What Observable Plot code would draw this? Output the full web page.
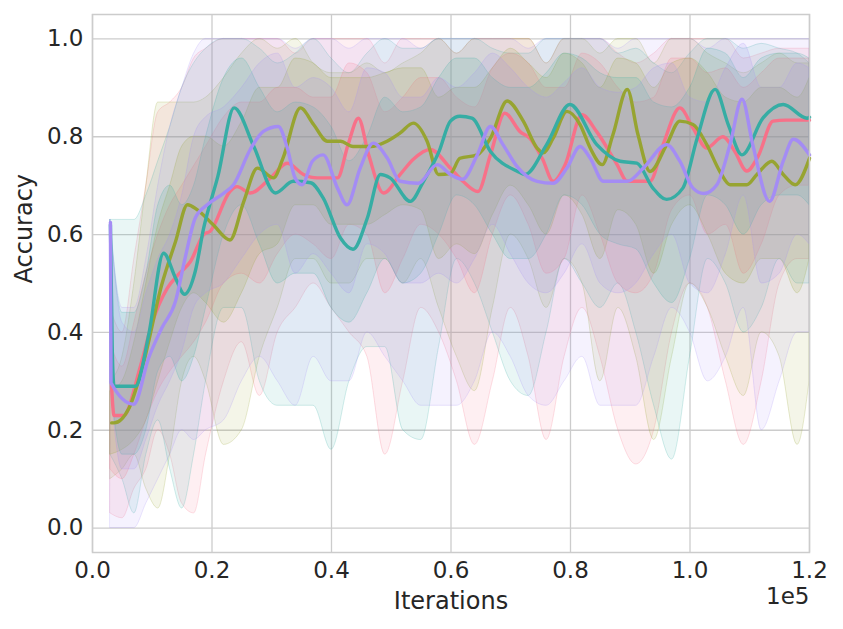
<!DOCTYPE html>
<html><head><meta charset="utf-8">
<script src="https://cdn.jsdelivr.net/npm/d3@7"></script>
<script src="https://cdn.jsdelivr.net/npm/@observablehq/plot@0.6"></script>
<style>body{margin:0;background:#fff;} svg{font-family:"DejaVu Sans",sans-serif;}</style>
</head><body><div id="chart"></div>
<script>
// ---- data (x in thousands of iterations) ----
const seriesNames = ["A", "B", "C", "D"];
const seriesColors = ["#f77189", "#97a431", "#36ada4", "#a48cf4"];
const xTicks = [0, 20000, 40000, 60000, 80000, 100000, 120000];
const yTicks = [0, 0.2, 0.4, 0.6, 0.8, 1.0];

// mean lines
const lineAx = [3.2,3.6,5.2,8,10,12.5,14.5,16.4,18.6,19.7,23,24.2,26.4,29.8,32.6,35.3,37.6,41,42.8,44.5,46.2,48.7,51.5,53.7,56.5,59.9,62,64.5,66.6,69,71.6,73.2,75.3,77.1,79.1,81.9,84.4,87.8,89.5,93.3,95.5,98.3,100.5,102.8,105.5,107.5,109.5,111.4,113.9,116,120];
const lineAy = [0.29,0.23,0.23,0.33,0.42,0.49,0.52,0.545,0.6,0.607,0.688,0.698,0.685,0.716,0.746,0.723,0.716,0.716,0.785,0.838,0.764,0.685,0.723,0.754,0.774,0.736,0.709,0.688,0.763,0.848,0.81,0.797,0.755,0.709,0.743,0.845,0.81,0.743,0.709,0.709,0.784,0.859,0.818,0.777,0.8,0.77,0.73,0.76,0.832,0.834,0.834];
const lineBx = [3.2,3.6,6.1,8.3,11.6,13.9,15.9,17.5,20.2,23,25.3,27.6,30.3,31.9,34.8,37,39.3,41.5,43.6,46.5,49.3,51.5,53.7,56,57.9,59.9,61.5,64.4,66.6,69.4,72.1,74.4,75.4,77.1,79.4,81.6,83.3,85.3,87.1,89.5,91.3,93.3,96.1,98.3,100.5,102.8,105,106.7,109.5,111.2,113.7,115.6,117.6,120];
const lineBy = [0.215,0.215,0.245,0.327,0.498,0.586,0.661,0.651,0.62,0.589,0.667,0.736,0.716,0.757,0.859,0.825,0.791,0.791,0.78,0.78,0.791,0.808,0.828,0.791,0.723,0.725,0.756,0.763,0.797,0.873,0.832,0.777,0.767,0.797,0.852,0.825,0.777,0.743,0.804,0.897,0.804,0.729,0.784,0.832,0.825,0.784,0.729,0.702,0.702,0.723,0.75,0.723,0.702,0.756];
const lineCx = [3,3.3,3.6,7.2,9.4,11.9,13.9,15.4,17.2,18.6,21,23.7,27,30.6,33.6,36.5,38.6,41.5,43.6,46,48.2,49.8,53.2,55.4,58,59.9,61.5,63.5,66.6,71,72.4,76,79.9,84.4,88.3,91.1,93.8,96.1,98.8,101.2,104.2,106.4,108.7,112.2,115.6,119.6,120];
const lineCy = [0.62,0.37,0.29,0.29,0.395,0.562,0.511,0.478,0.525,0.613,0.72,0.859,0.78,0.685,0.709,0.706,0.675,0.593,0.57,0.634,0.723,0.716,0.668,0.709,0.77,0.832,0.842,0.838,0.77,0.73,0.723,0.784,0.866,0.784,0.75,0.746,0.695,0.672,0.695,0.797,0.897,0.825,0.763,0.838,0.866,0.838,0.84];
const lineDx = [3,3.1,6.9,9.4,11.6,13.9,15.5,17.2,19.2,21.9,23.6,26.4,28.6,31.1,32.6,33.9,35.1,36.8,38.6,41,42.6,44.8,47,49.3,51.5,54.5,57.7,59.9,61.9,64.4,66.6,68.7,71,74.4,77.1,79.4,81.6,83.3,85.5,89.5,92.2,96.1,98.3,100.5,102.3,104.5,106.7,108.7,110.5,113.3,115.6,117.3,120];
const lineDy = [0.625,0.297,0.253,0.348,0.409,0.464,0.552,0.634,0.661,0.684,0.702,0.774,0.811,0.821,0.777,0.716,0.702,0.75,0.763,0.695,0.661,0.736,0.787,0.757,0.709,0.705,0.743,0.723,0.713,0.763,0.821,0.784,0.74,0.709,0.705,0.736,0.78,0.756,0.709,0.709,0.736,0.784,0.75,0.695,0.684,0.702,0.784,0.877,0.784,0.668,0.75,0.795,0.763];

// spread bands on a shared x grid
const bandX = [3,5,7,9,11,13,15,17,19,22,25,28,31,34,37,40,43,46,49,52,55,58,61,64,67,70,73,76,79,82,85,88,91,94,97,100,103,106,109,112,115,118,120];
const bandAlo1 = [0.03,0.02,0.08,0.12,0.2,0.15,0.05,0.03,0.15,0.3,0.38,0.27,0.4,0.45,0.5,0.45,0.4,0.35,0.15,0.3,0.45,0.4,0.3,0.17,0.3,0.45,0.35,0.18,0.35,0.45,0.35,0.2,0.13,0.2,0.4,0.5,0.45,0.3,0.17,0.3,0.5,0.55,0.55];
const bandAhi1 = [0.45,0.4,0.55,0.7,0.85,0.87,0.9,0.96,0.98,1,1,1,1,0.97,1,1,1,1,0.95,1,1,1,0.97,1,1,1,1,0.95,1,1,1,0.97,0.95,0.97,1,1,1,1,0.96,0.97,0.98,0.98,0.98];
const bandAlo2 = [0.12,0.1,0.15,0.22,0.28,0.32,0.35,0.38,0.42,0.5,0.52,0.5,0.56,0.6,0.58,0.55,0.62,0.6,0.48,0.55,0.62,0.6,0.55,0.48,0.6,0.68,0.62,0.52,0.55,0.68,0.6,0.5,0.48,0.52,0.65,0.68,0.6,0.62,0.52,0.58,0.68,0.7,0.7];
const bandAhi2 = [0.38,0.33,0.42,0.52,0.6,0.66,0.7,0.74,0.78,0.84,0.87,0.87,0.9,0.9,0.88,0.88,0.95,0.93,0.85,0.88,0.92,0.92,0.88,0.86,0.94,0.97,0.95,0.9,0.9,0.97,0.95,0.9,0.87,0.88,0.96,0.96,0.93,0.94,0.9,0.93,0.96,0.96,0.96];
const bandBlo1 = [0.1,0.12,0.15,0.08,0.04,0.15,0.3,0.35,0.3,0.17,0.2,0.35,0.45,0.55,0.55,0.5,0.5,0.55,0.55,0.5,0.55,0.45,0.35,0.28,0.45,0.6,0.55,0.45,0.55,0.5,0.3,0.45,0.35,0.18,0.35,0.5,0.45,0.35,0.27,0.4,0.35,0.17,0.3];
const bandBhi1 = [0.3,0.35,0.5,0.7,0.87,0.87,0.87,0.87,0.88,0.92,0.97,1,0.98,1,0.95,0.93,0.93,0.95,0.93,0.95,0.97,1,0.97,1,1,1,1,0.95,1,1,0.97,1,1,0.95,1,1,0.97,0.95,0.93,0.95,0.97,0.95,0.95];
const bandBlo2 = [0.15,0.16,0.18,0.22,0.3,0.38,0.45,0.48,0.46,0.42,0.48,0.56,0.58,0.66,0.66,0.62,0.62,0.62,0.64,0.66,0.65,0.55,0.58,0.56,0.64,0.7,0.66,0.6,0.68,0.64,0.55,0.65,0.62,0.52,0.62,0.66,0.6,0.52,0.5,0.55,0.55,0.48,0.55];
const bandBhi2 = [0.28,0.3,0.38,0.5,0.62,0.7,0.78,0.8,0.8,0.78,0.83,0.9,0.9,0.96,0.95,0.92,0.92,0.92,0.93,0.94,0.94,0.88,0.9,0.9,0.94,0.98,0.95,0.92,0.97,0.95,0.9,0.96,0.95,0.9,0.95,0.96,0.93,0.88,0.87,0.9,0.9,0.88,0.92];
const bandClo1 = [0.15,0.1,0.03,0.15,0.22,0.12,0.04,0.15,0.3,0.45,0.45,0.3,0.25,0.25,0.25,0.16,0.3,0.37,0.37,0.2,0.18,0.37,0.55,0.5,0.4,0.3,0.27,0.4,0.55,0.5,0.45,0.5,0.4,0.25,0.14,0.35,0.55,0.5,0.4,0.45,0.55,0.5,0.5];
const bandChi1 = [0.63,0.63,0.63,0.68,0.75,0.82,0.9,0.95,0.98,1,1,0.98,0.95,0.97,1,0.96,0.93,0.97,1,0.98,0.98,1,1,1,0.98,0.97,0.97,1,1,1,1,0.97,0.98,0.95,0.93,0.97,1,1,0.98,0.99,0.98,0.97,0.95];
const bandClo2 = [0.3,0.15,0.15,0.2,0.32,0.35,0.3,0.35,0.45,0.6,0.66,0.58,0.5,0.52,0.52,0.45,0.42,0.48,0.55,0.5,0.52,0.6,0.68,0.66,0.6,0.55,0.55,0.6,0.68,0.66,0.6,0.58,0.57,0.5,0.46,0.55,0.68,0.66,0.6,0.66,0.68,0.68,0.66];
const bandChi2 = [0.63,0.44,0.44,0.52,0.66,0.7,0.66,0.7,0.8,0.92,0.96,0.9,0.85,0.87,0.86,0.82,0.75,0.8,0.88,0.85,0.86,0.92,0.96,0.96,0.92,0.9,0.9,0.93,0.97,0.96,0.93,0.92,0.92,0.87,0.86,0.9,0.98,0.97,0.92,0.96,0.97,0.97,0.96];
const bandDlo1 = [0,0,0,0.05,0.1,0.15,0.2,0.18,0.2,0.22,0.3,0.35,0.3,0.25,0.35,0.3,0.3,0.4,0.35,0.3,0.25,0.25,0.25,0.3,0.4,0.35,0.27,0.25,0.3,0.35,0.25,0.25,0.25,0.35,0.45,0.4,0.3,0.35,0.45,0.2,0.3,0.4,0.4];
const bandDhi1 = [0.63,0.45,0.45,0.55,0.7,0.82,0.9,0.97,1,1,1,1,1,0.98,1,1,0.98,1,1,1,0.98,1,1,1,1,1,0.98,1,1,1,1,0.98,1,1,1,1,0.98,1,1,1,1,1,1];
const bandDlo2 = [0.3,0.12,0.12,0.18,0.25,0.3,0.36,0.45,0.48,0.5,0.55,0.6,0.62,0.52,0.56,0.52,0.48,0.58,0.56,0.5,0.5,0.52,0.5,0.55,0.62,0.56,0.5,0.48,0.52,0.58,0.5,0.48,0.5,0.56,0.6,0.5,0.48,0.56,0.68,0.5,0.52,0.6,0.58];
const bandDhi2 = [0.63,0.42,0.4,0.48,0.55,0.6,0.68,0.8,0.84,0.86,0.9,0.95,0.97,0.9,0.92,0.9,0.85,0.94,0.93,0.88,0.88,0.92,0.9,0.93,0.97,0.94,0.9,0.88,0.91,0.94,0.9,0.89,0.9,0.94,0.95,0.88,0.87,0.94,0.99,0.9,0.9,0.95,0.94];

// ---- build tables ----
const lineXs = [lineAx, lineBx, lineCx, lineDx];
const lineYs = [lineAy, lineBy, lineCy, lineDy];
const bandsOuter = [[bandAlo1, bandAhi1], [bandBlo1, bandBhi1], [bandClo1, bandChi1], [bandDlo1, bandDhi1]];
const bandsInner = [[bandAlo2, bandAhi2], [bandBlo2, bandBhi2], [bandClo2, bandChi2], [bandDlo2, bandDhi2]];

const lineRows = seriesNames.map((s, i) => lineXs[i].map((x, j) => ({series: s, x: x * 1000, y: lineYs[i][j]})));
const outerRows = seriesNames.map((s, i) => bandX.map((x, j) => ({series: s, x: x * 1000, lo: bandsOuter[i][0][j], hi: bandsOuter[i][1][j]})));
const innerRows = seriesNames.map((s, i) => bandX.map((x, j) => ({series: s, x: x * 1000, lo: bandsInner[i][0][j], hi: bandsInner[i][1][j]})));

const marks = [
  Plot.gridX(xTicks, {stroke: "#cccccc", strokeOpacity: 1, strokeWidth: 1.3}),
  Plot.gridY(yTicks, {stroke: "#cccccc", strokeOpacity: 1, strokeWidth: 1.3}),
];
seriesNames.forEach((s, i) => {
  marks.push(Plot.areaY(outerRows[i], {x: "x", y1: "lo", y2: "hi", fill: seriesColors[i], fillOpacity: 0.11,
    stroke: seriesColors[i], strokeOpacity: 0.22, strokeWidth: 1, curve: "monotone-x"}));
});
seriesNames.forEach((s, i) => {
  marks.push(Plot.areaY(innerRows[i], {x: "x", y1: "lo", y2: "hi", fill: seriesColors[i], fillOpacity: 0.15,
    stroke: seriesColors[i], strokeOpacity: 0.22, strokeWidth: 1, curve: "monotone-x"}));
});
seriesNames.forEach((s, i) => {
  marks.push(Plot.line(lineRows[i], {x: "x", y: "y", stroke: seriesColors[i], strokeWidth: 3.4, curve: "monotone-x"}));
});
marks.push(
  Plot.frame({stroke: "#cccccc", strokeWidth: 1.5}),
  Plot.axisX(xTicks, {tickSize: 0, tickPadding: 9, fontSize: 23, tickFormat: d => (d / 1e5).toFixed(1), label: null}),
  Plot.axisY(yTicks, {tickSize: 0, tickPadding: 9, fontSize: 23, tickFormat: d => d.toFixed(1), label: null}),
  Plot.text(["Iterations"], {text: d => d, frameAnchor: "bottom", dy: 49, fontSize: 24, lineAnchor: "middle"}),
  Plot.text(["1e5"], {text: d => d, frameAnchor: "bottom-right", textAnchor: "end", dy: 44, fontSize: 23, lineAnchor: "middle"}),
  Plot.text(["Accuracy"], {text: d => d, frameAnchor: "left", dx: -68, rotate: -90, fontSize: 24, lineAnchor: "middle"})
);

const chart = Plot.plot({
  width: 843, height: 629,
  marginLeft: 92, marginRight: 34, marginTop: 14, marginBottom: 77,
  x: {domain: [0, 120000]},
  y: {domain: [-0.05, 1.05]},
  style: {background: "#ffffff", color: "#262626", fontFamily: "DejaVu Sans, sans-serif", overflow: "visible"},
  marks
});
document.getElementById("chart").appendChild(chart);
</script>
</body></html>
